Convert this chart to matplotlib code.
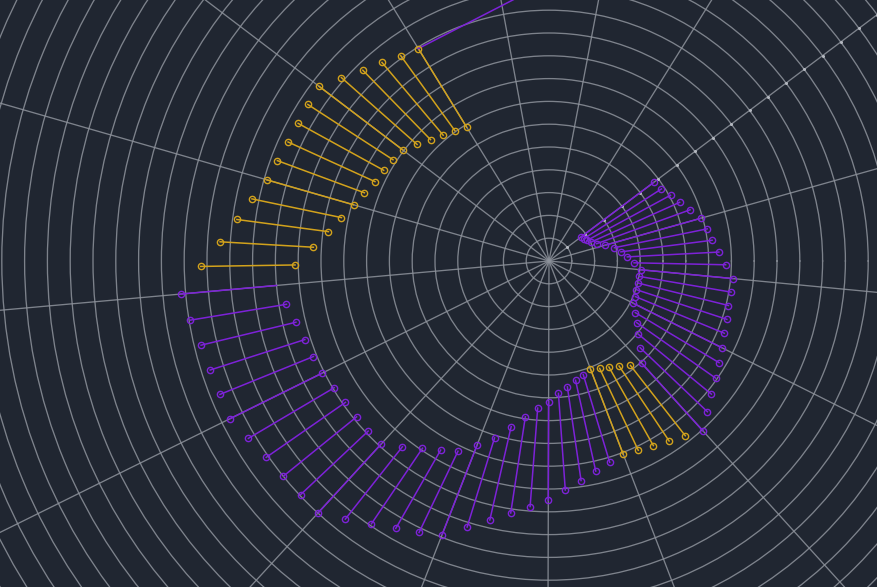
import numpy as np
import matplotlib
matplotlib.use('Agg')
import matplotlib.pyplot as plt

# angle axis: 85 categories round the circle, first drawn item at 121.6 deg
n_cat = 85
start_deg = 121.6

# radius of each item (inner end, outer end), one ring of the grid = 1
inner = [6.89, 7.04, 7.21, 7.44, 7.72, 8.05, 8.16, 8.27, 8.39, 8.63,
         8.92, 9.30, 9.76, 10.35, 11.14,
         12.00, 11.67, 11.42, 11.25, 11.15, 11.09, 10.94, 10.87, 10.86, 10.89,
         10.88, 10.38, 9.91, 9.56, 9.25, 8.68,
         8.12, 7.45, 6.91, 6.47, 6.17, 5.82, 5.58, 5.36, 5.20,
         5.07, 5.21, 5.34, 5.54, 5.81,
         6.06, 5.52, 5.06, 4.70, 4.41, 4.14, 4.10, 4.02, 4.01, 4.00,
         4.04, 3.73, 3.44, 3.18, 2.93, 2.54, 2.23, 2.02, 1.89, 1.80, 1.75]
outer = [10.94, 11.11, 11.38, 11.69, 12.15, 12.67, 12.61, 12.55, 12.58, 12.70,
         12.87, 13.31, 13.81, 14.45, 15.28,
         16.21, 15.94, 15.70, 15.61, 15.57, 15.63, 15.31, 15.10, 14.99, 14.95,
         15.00, 14.42, 13.91, 13.52, 13.20, 12.88,
         12.21, 11.65, 11.18, 10.80, 10.50, 10.07, 9.73, 9.44, 9.22,
         9.08, 9.18, 9.30, 9.49, 9.72,
         10.07, 9.59, 9.21, 8.94, 8.69, 8.49, 8.32, 8.21, 8.11, 8.10,
         8.10, 7.75, 7.46, 7.21, 7.08, 6.91, 6.58, 6.28, 6.06, 5.86, 5.74]
trend = ['up'] * 15 + ['down'] * 25 + ['up'] * 5 + ['down'] * 21

# stray link leaving the first item's outer end
tail_deg = [121.6, 82.8]
tail_r = [10.94, 13.22]

colors = {'up': '#d2a21c', 'down': '#7d22d8'}
bg = '#202631'
grid_col = '#8e939c'

step = 360.0 / n_cat
theta = np.deg2rad(start_deg + step * np.arange(len(inner)))

fig = plt.figure(figsize=(8.78, 5.87), dpi=100, facecolor=bg)
# polar area is much larger than the picture: centre at (549, 261) px
R = 30 * 22.8
cx, cy = 549, 587 - 261
ax = fig.add_axes([(cx - R) / 878, (cy - R) / 587, 2 * R / 878, 2 * R / 587],
                  projection='polar', facecolor=bg)
ax.set_ylim(0, 30)
rings = np.arange(1, 30)
ax.set_rgrids(rings, labels=[])
spokes = (start_deg + step * 5 * np.arange(17)) % 360
ax.set_thetagrids(spokes, labels=[])
ax.grid(True, color=grid_col, linewidth=0.95, alpha=0.85)
ax.tick_params(length=0)
ax.spines['polar'].set_visible(False)

# radius axis ticks sit on one spoke
axis_deg = start_deg - 4 * step * 5
ax.plot(np.full(len(rings), np.deg2rad(axis_deg)), rings, linestyle='none',
        marker='o', markersize=2.2, color='#b4b8c0', markeredgewidth=0, zorder=2)

for t, r0, r1, k in zip(theta, inner, outer, trend):
    ax.plot([t, t], [r0, r1], color=colors[k], linewidth=1.1, zorder=3)

ax.plot(np.deg2rad(tail_deg), tail_r, color=colors['down'], linewidth=1.1, zorder=3)

tr = np.array(trend)
for k in ('up', 'down'):
    m = tr == k
    ax.plot(theta[m], np.array(outer)[m], linestyle='none', marker='o', markersize=4.5,
            markerfacecolor='none', markeredgecolor=colors[k], markeredgewidth=1.0, zorder=4)
    keep = m.copy()
    keep[15] = False  # this item's inner end shows no symbol
    ax.plot(theta[keep], np.array(inner)[keep], linestyle='none', marker='o', markersize=4.5,
            markerfacecolor='none', markeredgecolor=colors[k], markeredgewidth=1.0, zorder=4)

fig.savefig('out.png', dpi=100, facecolor=bg)
